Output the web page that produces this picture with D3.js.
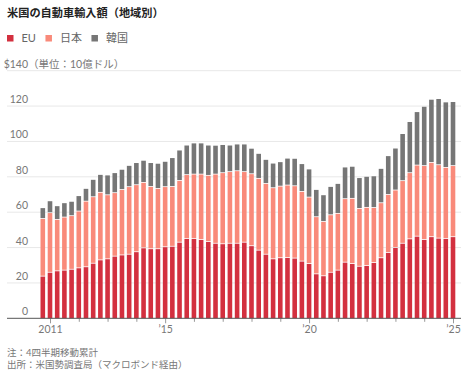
<!DOCTYPE html>
<html>
<head>
<meta charset="utf-8">
<script src="https://cdn.jsdelivr.net/npm/d3@7"></script>
<style>
  html, body { margin: 0; padding: 0; background: #fff; }
  svg { display: block; font-family: Lato, "Noto Sans CJK JP", sans-serif; }
</style>
</head>
<body>
<svg id="chart" width="468" height="377" viewBox="0 0 468 377"></svg>
<script>
var quarters = [
  '2010Q4',
  '2011Q1', '2011Q2', '2011Q3', '2011Q4',
  '2012Q1', '2012Q2', '2012Q3', '2012Q4',
  '2013Q1', '2013Q2', '2013Q3', '2013Q4',
  '2014Q1', '2014Q2', '2014Q3', '2014Q4',
  '2015Q1', '2015Q2', '2015Q3', '2015Q4',
  '2016Q1', '2016Q2', '2016Q3', '2016Q4',
  '2017Q1', '2017Q2', '2017Q3', '2017Q4',
  '2018Q1', '2018Q2', '2018Q3', '2018Q4',
  '2019Q1', '2019Q2', '2019Q3', '2019Q4',
  '2020Q1', '2020Q2', '2020Q3', '2020Q4',
  '2021Q1', '2021Q2', '2021Q3', '2021Q4',
  '2022Q1', '2022Q2', '2022Q3', '2022Q4',
  '2023Q1', '2023Q2', '2023Q3', '2023Q4',
  '2024Q1', '2024Q2', '2024Q3', '2024Q4',
  '2025Q1'
];

// 10億ドル
var eu = [
  23.6,
  25.8, 26.6, 27.0, 27.5,
  28.3, 28.9, 30.9, 32.8,
  33.4, 34.9, 35.6, 36.0,
  37.4, 39.6, 39.1, 39.1,
  40.2, 40.5, 42.8, 44.9,
  44.9, 44.3, 43.2, 42.2,
  41.9, 42.2, 42.2, 42.8,
  40.8, 38.3, 36.0, 33.4,
  34.0, 34.1, 33.8, 32.1,
  30.7, 24.9, 23.8, 25.8,
  27.0, 31.5, 30.7, 29.2,
  29.6, 31.3, 34.0, 37.0,
  39.8, 42.2, 44.7, 46.2,
  44.3, 45.9, 45.1, 44.9,
  45.9
];
var japan = [
  32.6,
  33.7, 29.1, 30.0, 30.3,
  32.1, 37.1, 37.6, 38.2,
  36.2, 35.9, 37.0, 38.2,
  37.9, 37.0, 35.2, 34.1,
  34.0, 33.8, 34.9, 36.1,
  36.4, 37.0, 37.4, 39.1,
  40.2, 40.5, 41.0, 39.9,
  40.7, 40.6, 40.0, 40.2,
  40.5, 41.0, 40.9, 39.4,
  37.6, 32.3, 30.7, 32.5,
  32.1, 35.9, 36.9, 32.7,
  32.9, 31.1, 31.1, 32.8,
  32.5, 35.4, 37.4, 40.2,
  41.8, 42.0, 41.5, 40.2,
  40.2
];
var korea = [
  6.1,
  6.7, 7.7, 8.1, 8.1,
  8.7, 7.2, 9.8, 10.1,
  11.2, 11.3, 11.4, 12.0,
  12.5, 12.5, 13.5, 14.2,
  14.3, 16.3, 17.2, 16.7,
  17.6, 17.6, 17.1, 16.3,
  15.9, 15.0, 15.1, 15.6,
  14.4, 14.1, 13.6, 13.9,
  13.8, 15.2, 15.5, 15.7,
  15.9, 15.4, 15.1, 16.0,
  16.9, 17.9, 18.1, 17.4,
  17.5, 17.9, 19.4, 21.9,
  23.7, 26.6, 28.9, 30.2,
  33.5, 35.7, 37.4, 37.0,
  36.2
];

var seriesKeys = ['eu', 'japan', 'korea'];
var seriesNames = ['EU', '日本', '韓国'];
var seriesColors = ['#d3303f', '#f98a7a', '#767676'];

var yTicks = [0, 20, 40, 60, 80, 100, 120, 140];
var xTickYears = [2011, 2012, 2013, 2014, 2015, 2016, 2017, 2018, 2019, 2020, 2021, 2022, 2023, 2024, 2025];
var xLabels = { 2011: '2011', 2015: '’15', 2020: '’20', 2025: '’25' };

var title = '米国の自動車輸入額（地域別）';
var unitLabel = '（単位：10億ドル）';
var notes = ['注：4四半期移動累計', '出所：米国勢調査局（マクロボンド経由）'];

var rows = quarters.map(function (q, i) {
  return {
    t: +q.slice(0, 4) + (+q.slice(5) - 1) / 4,
    eu: eu[i],
    japan: japan[i],
    korea: korea[i]
  };
});

var svg = d3.select('#chart');

var x = d3.scaleLinear().domain([2011, 2025]).range([50, 453]);
var y = d3.scaleLinear().domain([0, 140]).range([318.3, 70.7]);
var barWidth = 4.6;
var left = 7, right = 461;

// title
svg.append('text')
  .attr('x', 7).attr('y', 17)
  .attr('font-size', 11.2).attr('font-weight', 700)
  .attr('fill', '#222')
  .text(title);

// legend
var legend = svg.append('g').attr('transform', 'translate(7,0)');
var lx = 0;
seriesNames.forEach(function (name, i) {
  var item = legend.append('g').attr('transform', 'translate(' + lx + ',0)');
  item.append('rect').attr('x', 0).attr('y', 35).attr('width', 6.5).attr('height', 6.5).attr('fill', seriesColors[i]);
  var t = item.append('text').attr('x', 14.5).attr('y', 42).attr('font-size', 11).attr('fill', '#666').text(name);
  lx += 15 + t.node().getComputedTextLength() + 9;
});

// grid + y labels
var grid = svg.append('g');
grid.selectAll('line').data(yTicks.filter(function (d) { return d > 0; })).enter().append('line')
  .attr('x1', left).attr('x2', right)
  .attr('y1', function (d) { return y(d); }).attr('y2', function (d) { return y(d); })
  .attr('stroke', '#e8e8e8').attr('stroke-width', 1);

grid.selectAll('text.ylab').data(yTicks).enter().append('text')
  .attr('class', 'ylab')
  .attr('x', 28).attr('y', function (d) { return y(d) - 3; })
  .attr('text-anchor', 'end')
  .attr('font-size', 10.5).attr('fill', '#777')
  .text(function (d) { return d === 140 ? '$' + d : d; });

grid.append('text')
  .attr('x', 28).attr('y', y(140) - 3)
  .attr('font-size', 10.5).attr('fill', '#777')
  .text(unitLabel);

// bars
var stack = d3.stack().keys(seriesKeys);
var layers = stack(rows);

svg.append('g').selectAll('g').data(layers).enter().append('g')
  .attr('fill', function (d, i) { return seriesColors[i]; })
  .selectAll('rect').data(function (d) { return d; }).enter().append('rect')
  .attr('x', function (d) { return x(d.data.t) - barWidth / 2; })
  .attr('width', barWidth)
  .attr('y', function (d) { return y(d[1]); })
  .attr('height', function (d) {
    return Math.max(0, y(d[0]) - y(d[1]) - (d[0] > 0 ? 0.8 : 0));
  });

// x axis
var xAxis = d3.axisBottom(x)
  .tickValues(xTickYears)
  .tickSize(4)
  .tickFormat(function (d) { return xLabels[d] || ''; });

var ax = svg.append('g').attr('transform', 'translate(0,' + y(0) + ')').call(xAxis);
ax.select('.domain').remove();
ax.selectAll('.tick line').attr('stroke', '#999')
  .attr('y2', function (d) { return xLabels[d] ? 5 : 3.5; });
ax.selectAll('.tick text').attr('font-size', 10.5).attr('fill', '#777')
  .attr('font-family', 'Lato, "Noto Sans CJK JP", sans-serif').attr('dy', 0).attr('y', 15);

svg.append('line')
  .attr('x1', left).attr('x2', right)
  .attr('y1', y(0)).attr('y2', y(0))
  .attr('stroke', '#555').attr('stroke-width', 1);

// notes
svg.selectAll('text.note').data(notes).enter().append('text')
  .attr('class', 'note')
  .attr('x', 7).attr('y', function (d, i) { return 356 + i * 12; })
  .attr('font-size', 9.5).attr('fill', '#777')
  .text(function (d) { return d; });
</script>
</body>
</html>
